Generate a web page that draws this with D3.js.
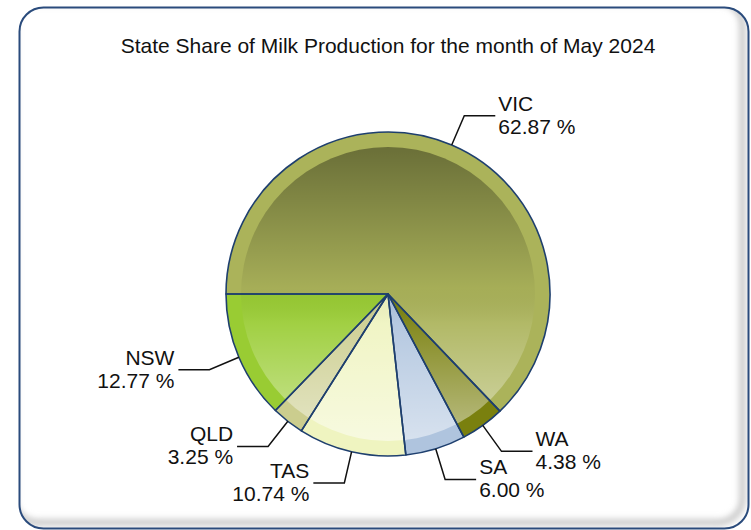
<!DOCTYPE html>
<html>
<head>
<meta charset="utf-8">
<script src="https://cdn.jsdelivr.net/npm/d3@7"></script>
<style>
  html, body { margin: 0; padding: 0; background: #fff; }
  svg { display: block; font-family: "Liberation Sans", Arial, sans-serif; }
</style>
</head>
<body>
<svg id="chart"></svg>
<script>
const states = ["VIC", "WA", "SA", "TAS", "QLD", "NSW"];
const shares = [62.87, 4.38, 6.00, 10.74, 3.25, 12.77];
const colors = ["#abb35a", "#7a800e", "#afc4de", "#eff4c0", "#cbcd8e", "#99cc33"];
const title = "State Share of Milk Production for the month of May 2024";

const width = 751, height = 530;
const cx = 388, cy = 294, radius = 162, innerR = 147;

const svg = d3.select("#chart")
    .attr("width", width)
    .attr("height", height);

const defs = svg.append("defs");

// frame with soft inner shadow on the right / bottom
defs.append("clipPath").attr("id", "frameClip")
    .append("rect")
    .attr("x", 19.5).attr("y", 7.5)
    .attr("width", 729).attr("height", 521)
    .attr("rx", 24);

const blur = defs.append("filter").attr("id", "blur")
    .attr("x", "-10%").attr("y", "-10%").attr("width", "120%").attr("height", "120%");
blur.append("feGaussianBlur").attr("stdDeviation", 3);

svg.append("rect")
    .attr("x", 19.5).attr("y", 7.5)
    .attr("width", 729).attr("height", 521)
    .attr("rx", 24)
    .attr("fill", "#fff");

svg.append("g")
    .attr("clip-path", "url(#frameClip)")
    .append("rect")
    .attr("x", 19.5 - 6).attr("y", 7.5 - 6)
    .attr("width", 729).attr("height", 521)
    .attr("rx", 24)
    .attr("fill", "none")
    .attr("stroke", "#c4c4c4")
    .attr("stroke-width", 6)
    .attr("filter", "url(#blur)");

svg.append("rect")
    .attr("x", 19.5).attr("y", 7.5)
    .attr("width", 729).attr("height", 521)
    .attr("rx", 24)
    .attr("fill", "none")
    .attr("stroke", "#2a4b7c")
    .attr("stroke-width", 2);

// title
svg.append("text")
    .attr("x", cx)
    .attr("y", 53)
    .attr("text-anchor", "middle")
    .attr("font-size", 21)
    .attr("fill", "#111")
    .text(title);

// pie
const data = states.map((s, i) => ({state: s, value: shares[i], color: colors[i]}));

const pie = d3.pie()
    .value(d => d.value)
    .sort(null)
    .startAngle(-Math.PI / 2)
    .endAngle(Math.PI * 1.5);

const arcs = pie(data);
const arc = d3.arc().innerRadius(0).outerRadius(radius);

const g = svg.append("g").attr("transform", `translate(${cx},${cy})`);

// shading across the inner disc
const grad = defs.append("linearGradient")
    .attr("id", "shade")
    .attr("x1", 0).attr("y1", 0).attr("x2", 0).attr("y2", 1);
grad.append("stop").attr("offset", "0%").attr("stop-color", "#000").attr("stop-opacity", 0.38);
grad.append("stop").attr("offset", "48%").attr("stop-color", "#000").attr("stop-opacity", 0.03);
grad.append("stop").attr("offset", "60%").attr("stop-color", "#fff").attr("stop-opacity", 0.08);
grad.append("stop").attr("offset", "100%").attr("stop-color", "#fff").attr("stop-opacity", 0.5);

g.selectAll("path.slice")
    .data(arcs)
    .join("path")
    .attr("class", "slice")
    .attr("d", arc)
    .attr("fill", d => d.data.color);

g.append("circle")
    .attr("r", innerR)
    .attr("fill", "url(#shade)");

g.selectAll("path.edge")
    .data(arcs)
    .join("path")
    .attr("class", "edge")
    .attr("d", arc)
    .attr("fill", "none")
    .attr("stroke", "#1e3f6e")
    .attr("stroke-width", 1.6)
    .attr("stroke-linejoin", "round");

// labels with elbow leader lines
const edgeArc = d3.arc().innerRadius(radius).outerRadius(radius);
const elbowArc = d3.arc().innerRadius(194).outerRadius(194);

const labels = g.selectAll("g.label")
    .data(arcs)
    .join("g")
    .attr("class", "label");

labels.each(function(d) {
    const mid = (d.startAngle + d.endAngle) / 2;
    const right = Math.sin(mid) > 0;
    const p0 = edgeArc.centroid(d);
    const p1 = elbowArc.centroid(d);
    const p2 = [p1[0] + (right ? 31 : -31), p1[1]];
    const sel = d3.select(this);

    sel.append("polyline")
        .attr("points", [p0, p1, p2].map(p => p.join(",")).join(" "))
        .attr("fill", "none")
        .attr("stroke", "#111")
        .attr("stroke-width", 1.5);

    const t = sel.append("text")
        .attr("x", p2[0] + (right ? 3 : -4))
        .attr("y", p2[1] - 5)
        .attr("text-anchor", right ? "start" : "end")
        .attr("font-size", 21)
        .attr("fill", "#111");
    t.append("tspan").text(d.data.state);
    t.append("tspan")
        .attr("x", p2[0] + (right ? 3 : -4))
        .attr("dy", 23)
        .text(d.data.value.toFixed(2) + " %");
});
</script>
</body>
</html>
